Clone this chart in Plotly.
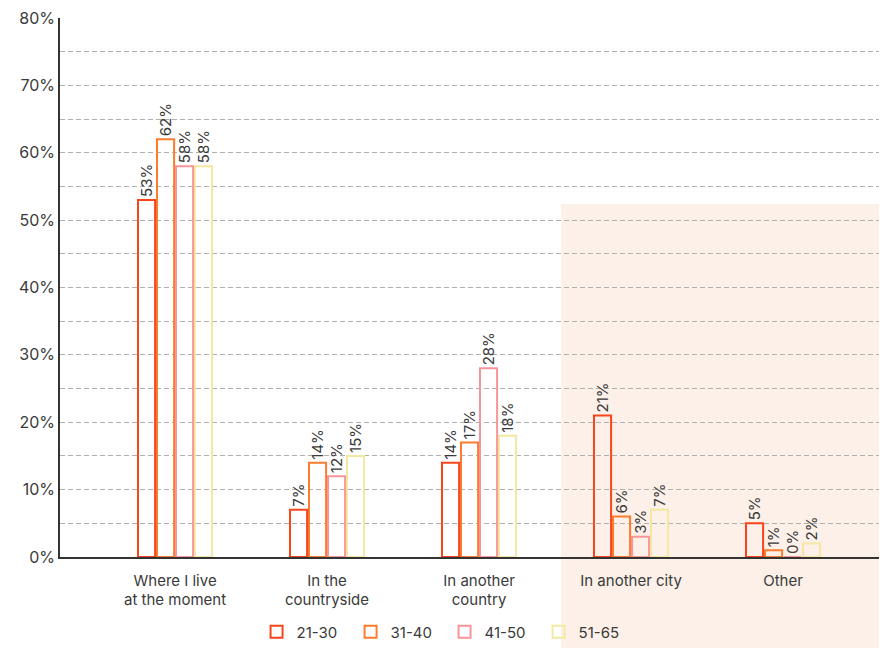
import plotly.graph_objects as go

categories = ["Where I live<br>at the moment", "In the<br>countryside", "In another<br>country", "In another city", "Other"]
series_names = ["21-30", "31-40", "41-50", "51-65"]
values_21_30 = [53, 7, 14, 21, 5]
values_31_40 = [62, 14, 17, 6, 1]
values_41_50 = [58, 12, 28, 3, 0]
values_51_65 = [58, 15, 18, 7, 2]
colors = ["#f7461c", "#ff7b2c", "#f8959b", "#f6e7a0"]
y_ticks = [0, 10, 20, 30, 40, 50, 60, 70, 80]

all_values = [values_21_30, values_31_40, values_41_50, values_51_65]

fig = go.Figure()
for name, vals, col in zip(series_names, all_values, colors):
    fig.add_trace(go.Bar(
        x=list(range(len(categories))), y=vals, name=name,
        marker=dict(color="rgba(0,0,0,0)", line=dict(color=col, width=2)),
        text=[f"{v}%" for v in vals], textposition="outside", textangle=-90,
        textfont=dict(size=15, color="#3a3a3a"), cliponaxis=False,
        constraintext="none",
    ))

fig.add_shape(type="rect", xref="paper", yref="paper", x0=0.606, x1=1.05, y0=-0.25, y1=0.655,
              fillcolor="#fcf0e8", line=dict(width=0), layer="below")

fig.update_layout(
    width=879, height=648,
    margin=dict(l=52, r=0, t=10, b=99, autoexpand=False),
    paper_bgcolor="white", plot_bgcolor="rgba(0,0,0,0)",
    font=dict(family="Inter, sans-serif", color="#3a3a3a", size=15),
    barmode="group", bargap=0.5, bargroupgap=0.1,
    showlegend=True,
    legend=dict(orientation="h", x=0.465, xanchor="center", y=-0.139, yanchor="middle",
                font=dict(size=15, color="#3a3a3a"), itemwidth=30, entrywidth=49,
                bgcolor="rgba(0,0,0,0)"),
    xaxis=dict(tickmode="array", tickvals=list(range(len(categories))), ticktext=categories,
               range=[-0.757, 4.684], showgrid=False, showline=True, linecolor="#333333",
               linewidth=1.5, ticks="", zeroline=False, tickfont=dict(size=15),
               ticklabelstandoff=9),
    yaxis=dict(range=[0, 80], tickvals=y_ticks, ticktext=[f"{t}%" for t in y_ticks],
               showgrid=True, gridcolor="#b0b0b0", griddash="5px,3px", gridwidth=1,
               minor=dict(dtick=5, showgrid=True, gridcolor="#b0b0b0", griddash="5px,3px", gridwidth=1),
               showline=True, linecolor="#333333", linewidth=1.5, zeroline=False,
               ticks="", tickfont=dict(size=16), ticklabeloverflow="allow"),
)

fig.write_html("out.html")
